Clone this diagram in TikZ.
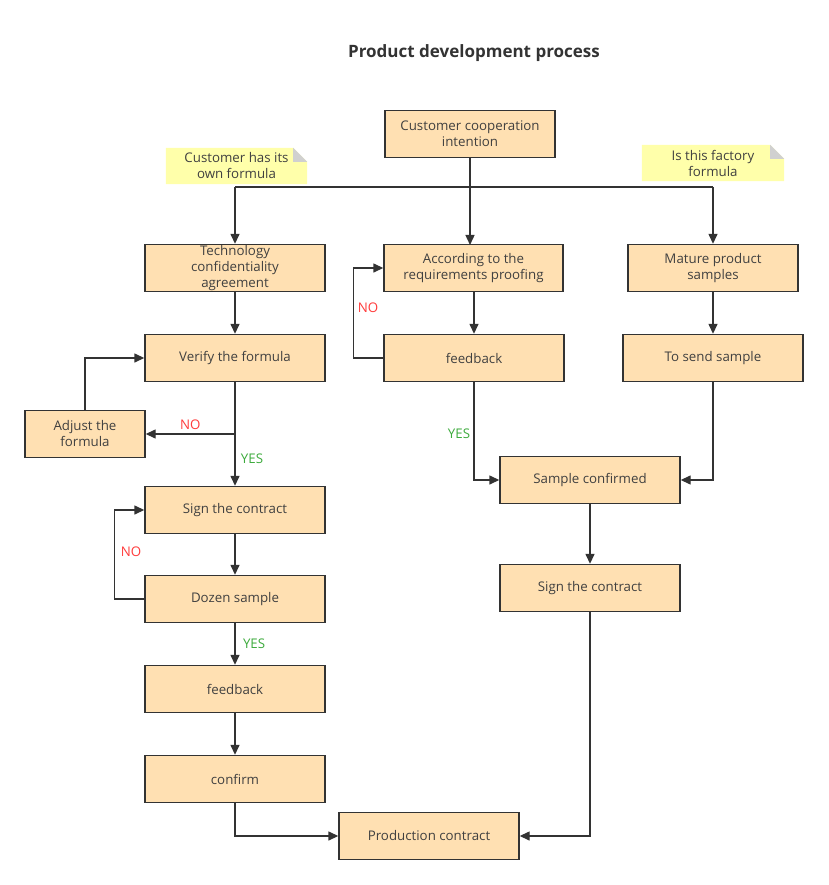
\documentclass[tikz,border=0pt]{standalone}
\usepackage{fontspec}
\setmainfont{Open Sans}
\usetikzlibrary{arrows.meta,backgrounds}

\definecolor{boxfill}{RGB}{255,224,178}
\definecolor{notefill}{RGB}{255,255,170}
\definecolor{foldgray}{RGB}{208,208,208}
\definecolor{edge}{RGB}{51,51,51}
\definecolor{ink}{RGB}{64,64,64}
\definecolor{nored}{RGB}{255,60,60}
\definecolor{yesgreen}{RGB}{60,170,60}

\tikzset{
  stepbox/.style={draw=edge, fill=boxfill, line width=1.4pt, minimum width=180pt,
    minimum height=47pt, inner sep=0pt, align=center, text=ink,
    font=\fontsize{13.3}{16}\selectfont},
  notebox/.style={inner sep=0pt, align=center, text=ink,
    font=\fontsize{13.3}{16}\selectfont},
  link/.style={draw=edge, line width=1.4pt, -{Triangle[length=10pt,width=9pt]}},
  line/.style={draw=edge, line width=1.4pt},
  nolabel/.style={text=nored, font=\fontsize{13.3}{16}\selectfont},
  yeslabel/.style={text=yesgreen, font=\fontsize{13.3}{16}\selectfont}
}

\begin{document}
\begin{tikzpicture}[x=1pt,y=-1pt]
\useasboundingbox (0,0) rectangle (828,885);

\node[font=\fontsize{17}{19}\selectfont\bfseries, text=edge] (title) at (474,53) {Product development process};

% top
\node[stepbox, minimum width=170pt] (intent) at (470,134) {Customer cooperation\\intention};

% notes
\node[notebox, minimum width=141pt, minimum height=36pt] (ownform) at (236.5,166) {Customer has its\\own formula};
\node[notebox, minimum width=142pt, minimum height=36pt] (factform) at (713,163) {Is this factory\\formula};
\begin{scope}[on background layer]
\foreach \n in {ownform,factform}{
  \fill[notefill] (\n.north west) -- ([xshift=-14pt]\n.north east) -- ([yshift=-14pt]\n.north east) -- (\n.south east) -- (\n.south west) -- cycle;
  \fill[foldgray] ([xshift=-14pt]\n.north east) -- ([xshift=-14pt,yshift=-14pt]\n.north east) -- ([yshift=-14pt]\n.north east) -- cycle;
}
\end{scope}

% left column
\node[stepbox] (tech) at (235,268) {Technology\\confidentiality\\agreement};
\node[stepbox] (verify) at (235,358) {Verify the formula};
\node[stepbox, minimum width=120pt] (adjust) at (85,434) {Adjust the\\formula};
\node[stepbox] (signl) at (235,510) {Sign the contract};
\node[stepbox] (dozen) at (235,599) {Dozen sample};
\node[stepbox] (feedl) at (235,689) {feedback};
\node[stepbox] (confirm) at (235,779) {confirm};

% middle column
\node[stepbox, minimum width=179pt] (proof) at (473.5,268) {According to the\\requirements proofing};
\node[stepbox] (feedm) at (474,358) {feedback};
\node[stepbox] (sconf) at (590,480) {Sample confirmed};
\node[stepbox] (signr) at (590,588) {Sign the contract};
\node[stepbox] (prod) at (429,836) {Production contract};

% right column
\node[stepbox, minimum width=170pt] (mature) at (713,268) {Mature product\\samples};
\node[stepbox] (send) at (713,358) {To send sample};

% split from the top box
\coordinate (split) at (470,187);
\draw[line] (intent.south) -- (split);
\draw[line] (235,187) -- (713,187);
\draw[link] (235,187) -- (tech.north);
\draw[link] (split) -- (470,245);
\draw[link] (713,187) -- (mature.north);

% left column links
\draw[link] (tech) -- (verify);
\coordinate (fork) at (235,434);
\draw[link] (verify.south) -- (signl.north);
\draw[link] (fork) -- (adjust.east) node[nolabel, midway, above=0pt] {NO};
\node[yeslabel] (yes1) at (252,459) {YES};
\draw[link] (adjust.north) |- (verify.west);
\draw[link] (signl) -- (dozen);
\draw[link] (dozen.west) -- ++(-30,0) |- (signl.west);
\node[nolabel] (no2) at (131,552) {NO};
\draw[link] (dozen) -- (feedl) node[yeslabel, midway, right=4pt] {YES};
\draw[link] (feedl) -- (confirm);
\draw[link] (confirm.south) |- (prod.west);

% middle links
\draw[link] (474,291) -- (feedm.north);
\draw[link] (feedm.west) -- ++(-30,0) |- (proof.west);
\node[nolabel] (no3) at (368,308) {NO};
\draw[link] (feedm.south) |- (sconf.west);
\node[yeslabel] (yes3) at (459,434) {YES};
\draw[link] (sconf) -- (signr);
\draw[link] (signr.south) |- (prod.east);

% right links
\draw[link] (mature) -- (send);
\draw[link] (send.south) |- (sconf.east);

\end{tikzpicture}
\end{document}
